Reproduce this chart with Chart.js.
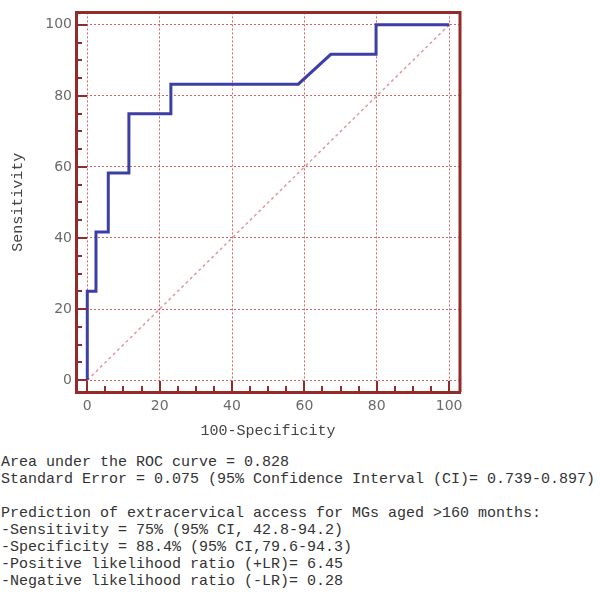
<!DOCTYPE html>
<html>
<head>
<meta charset="utf-8">
<script src="https://cdn.jsdelivr.net/npm/chart.js@4/dist/chart.umd.min.js"></script>
<style>
  html, body { margin: 0; padding: 0; background: #fff; }
  #wrap { position: relative; width: 600px; height: 595px; }
  #c { position: absolute; left: 0; top: 0; }
  #stats {
    position: absolute; left: 1px; top: 454px; margin: 0;
    font-family: "Liberation Mono", "DejaVu Sans Mono", monospace;
    font-size: 15px; line-height: 17px; color: #333; white-space: pre;
  }
</style>
</head>
<body>
<div id="wrap">
  <canvas id="c" width="600" height="445"></canvas>
  <pre id="stats"></pre>
</div>
<script>
// ROC curve (100-Specificity, Sensitivity)
const fpr = [0, 0, 2.4, 2.4, 5.8, 5.8, 11.5, 11.5, 23.1, 23.1, 58.3, 67.3, 79.8, 79.8, 100];
const tpr = [0, 25, 25, 41.7, 41.7, 58.3, 58.3, 75, 75, 83.3, 83.3, 91.7, 91.7, 100, 100];
const refX = [0, 100];
const refY = [0, 100];
const majorTicks = [0, 20, 40, 60, 80, 100];
const minorTicks = [5, 10, 15, 25, 30, 35, 45, 50, 55, 65, 70, 75, 85, 90, 95];
const xTitle = "100-Specificity";
const yTitle = "Sensitivity";
const statsLines = [
  "Area under the ROC curve = 0.828",
  "Standard Error = 0.075 (95% Confidence Interval (CI)= 0.739-0.897)",
  "",
  "Prediction of extracervical access for MGs aged >160 months:",
  "-Sensitivity = 75% (95% CI, 42.8-94.2)",
  "-Specificity = 88.4% (95% CI,79.6-94.3)",
  "-Positive likelihood ratio (+LR)= 6.45",
  "-Negative likelihood ratio (-LR)= 0.28"
];

document.getElementById('stats').textContent = statsLines.join('\n');

const FRAME = '#952a2a';
const GRID = 'rgba(205,60,60,0.8)';

const framePlugin = {
  id: 'frameTicks',
  afterDraw(chart) {
    const ctx = chart.ctx;
    const a = chart.chartArea;
    const xs = chart.scales.x, ys = chart.scales.y;
    ctx.save();
    ctx.strokeStyle = FRAME;
    // top and right frame
    ctx.lineWidth = 3;
    ctx.beginPath();
    ctx.moveTo(a.left, a.top);
    ctx.lineTo(a.right, a.top);
    ctx.lineTo(a.right, a.bottom);
    ctx.stroke();
    // inward tick marks
    ctx.lineWidth = 2;
    const drawTicks = (vals, len) => {
      vals.forEach(v => {
        const px = Math.round(xs.getPixelForValue(v));
        ctx.beginPath();
        ctx.moveTo(px, a.bottom);
        ctx.lineTo(px, a.bottom - len);
        ctx.stroke();
        const py = Math.round(ys.getPixelForValue(v));
        ctx.beginPath();
        ctx.moveTo(a.left, py);
        ctx.lineTo(a.left + len, py);
        ctx.stroke();
      });
    };
    drawTicks(majorTicks, 11);
    drawTicks(minorTicks, 6);
    ctx.restore();
  }
};

const rocData = fpr.map((x, i) => ({ x: x, y: tpr[i] }));
const refData = refX.map((x, i) => ({ x: x, y: refY[i] }));

new Chart(document.getElementById('c'), {
  type: 'scatter',
  data: {
    datasets: [
      {
        data: rocData, showLine: true, borderColor: '#3c3fa6', borderWidth: 3,
        pointRadius: 0, tension: 0, fill: false, order: 1
      },
      {
        data: refData, showLine: true, borderColor: 'rgba(225,140,140,0.9)', borderWidth: 1.5,
        borderDash: [3, 3], pointRadius: 0, fill: false, order: 2
      }
    ]
  },
  options: {
    responsive: false,
    animation: false,
    events: [],
    layout: { padding: { left: 0, right: 140, top: 10, bottom: 0 } },
    plugins: { legend: { display: false }, tooltip: { enabled: false } },
    scales: {
      x: {
        type: 'linear', min: -3.12, max: 103.0,
        afterBuildTicks: s => { s.ticks = majorTicks.map(v => ({ value: v })); },
        afterFit: s => { s.height = 53; },
        grid: { color: GRID, lineWidth: 1, drawTicks: false },
        border: { display: true, color: FRAME, width: 3, dash: [2, 2] },
        ticks: {
          padding: 6, color: '#6a6a6a', maxRotation: 0,
          font: { family: 'DejaVu Sans', size: 14 }
        },
        title: {
          display: true, text: xTitle, color: '#444',
          font: { family: 'Liberation Mono', size: 15 },
          padding: { top: 0, bottom: 5 }
        }
      },
      y: {
        type: 'linear', min: -3.35, max: 103.5,
        afterBuildTicks: s => { s.ticks = majorTicks.map(v => ({ value: v })); },
        afterFit: s => { s.width = 76; },
        grid: { color: GRID, lineWidth: 1, drawTicks: false },
        border: { display: true, color: FRAME, width: 3, dash: [2, 2] },
        ticks: {
          padding: 4, color: '#6a6a6a',
          font: { family: 'DejaVu Sans', size: 14 }
        },
        title: {
          display: true, text: yTitle, color: '#444',
          font: { family: 'Liberation Mono', size: 15 },
          padding: { top: 9, bottom: 0 }
        }
      }
    }
  },
  plugins: [framePlugin]
});
</script>
</body>
</html>
